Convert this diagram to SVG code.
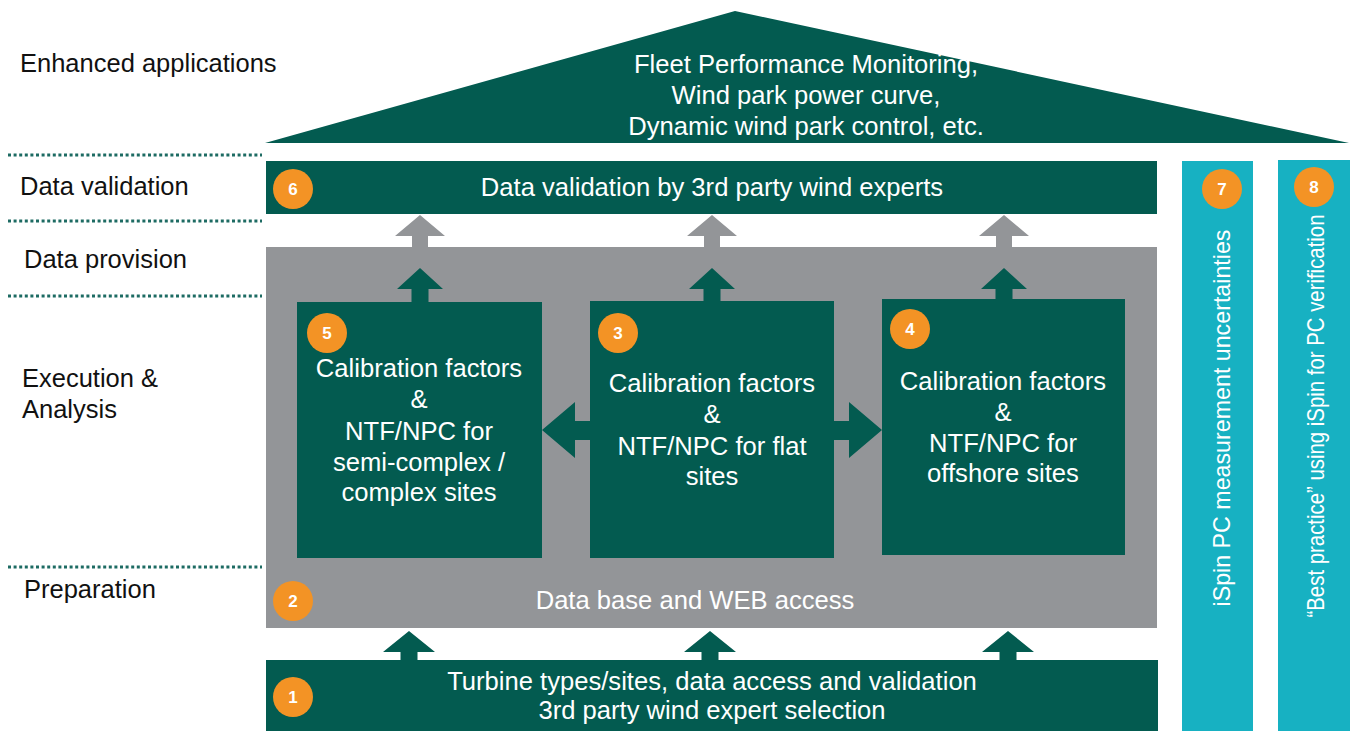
<svg xmlns="http://www.w3.org/2000/svg" width="1354" height="731" viewBox="0 0 1354 731">
<style>
.dk{fill:#035b50}
.gr{fill:#939598}
.cy{fill:#17b1c2}
.bd{fill:#f39325}
.bn{fill:#fff;font-family:"Liberation Sans",Arial,sans-serif;font-size:17px;font-weight:bold;text-anchor:middle}
.wt{fill:#fff;font-family:"Liberation Sans",Arial,sans-serif;font-size:25.6px;text-anchor:middle}
.lb{fill:#111;font-family:"Liberation Sans",Arial,sans-serif;font-size:25.5px}
.dot{stroke:#1d6b63;stroke-width:3;stroke-dasharray:3 2.6;fill:none}
</style>
<rect width="1354" height="731" fill="#fff"/>
<g id="levels">
<line class="dot" x1="8" y1="155" x2="262" y2="155"/>
<line class="dot" x1="8" y1="221" x2="262" y2="221"/>
<line class="dot" x1="8" y1="296" x2="262" y2="296"/>
<line class="dot" x1="8" y1="567" x2="262" y2="567"/>
<text class="lb" x="20" y="72">Enhanced applications</text>
<text class="lb" x="20" y="195">Data validation</text>
<text class="lb" x="24" y="268">Data provision</text>
<text class="lb" x="22" y="387">Execution &amp;</text>
<text class="lb" x="22" y="418">Analysis</text>
<text class="lb" x="24" y="598">Preparation</text>
</g>
<g id="roof">
<polygon class="dk" points="265,143 735,11 1349,143"/>
<text class="wt" x="806" y="73">Fleet Performance Monitoring,</text>
<text class="wt" x="806" y="104">Wind park power curve,</text>
<text class="wt" x="806" y="135">Dynamic wind park control, etc.</text>
</g>
<g id="n2">
<rect class="gr" x="266" y="247" width="891" height="381"/>
<circle class="bd" cx="293" cy="601" r="20"/>
<text class="bn" x="293" y="607">2</text>
<text class="wt" x="695" y="609">Data base and WEB access</text>
</g>
<g id="n6">
<rect class="dk" x="266" y="161" width="891" height="53"/>
<circle class="bd" cx="293" cy="189" r="20"/>
<text class="bn" x="293" y="195">6</text>
<text class="wt" x="712" y="196">Data validation by 3rd party wind experts</text>
</g>
<g id="n1">
<rect class="dk" x="266" y="660" width="892" height="71"/>
<circle class="bd" cx="293" cy="697" r="20"/>
<text class="bn" x="293" y="703">1</text>
<text class="wt" x="712" y="690">Turbine types/sites, data access and validation</text>
<text class="wt" x="712" y="719">3rd party wind expert selection</text>
</g>
<g id="connectors">
<polygon class="gr" points="420,215 445,236 428,236 428,248 412,248 412,236 395,236"/>
<polygon class="gr" points="712,215 737,236 720,236 720,248 704,248 704,236 687,236"/>
<polygon class="gr" points="1004,215 1029,236 1012,236 1012,248 996,248 996,236 979,236"/>
<polygon class="dk" points="420,268 443,289 428.5,289 428.5,303 411.5,303 411.5,289 397,289"/>
<polygon class="dk" points="712,268 735,289 720.5,289 720.5,303 703.5,303 703.5,289 689,289"/>
<polygon class="dk" points="1004,268 1027,289 1012.5,289 1012.5,300 995.5,300 995.5,289 981,289"/>
<polygon class="dk" points="409,631 435,652 417.5,652 417.5,661 400.5,661 400.5,652 383,652"/>
<polygon class="dk" points="710,631 736,652 718.5,652 718.5,661 701.5,661 701.5,652 684,652"/>
<polygon class="dk" points="1008,631 1034,652 1016.5,652 1016.5,661 999.5,661 999.5,652 982,652"/>
<polygon class="dk" points="542,430 575,402 575,421 591,421 591,440 575,440 575,458"/>
<polygon class="dk" points="882,430 849,402 849,421 833,421 833,440 849,440 849,458"/>
</g>
<g id="n5">
<rect class="dk" x="297" y="302" width="245" height="256"/>
<circle class="bd" cx="327" cy="333" r="20"/>
<text class="bn" x="327" y="339">5</text>
<text class="wt" x="419" y="377">Calibration factors</text>
<text class="wt" x="419" y="408">&amp;</text>
<text class="wt" x="419" y="440">NTF/NPC for</text>
<text class="wt" x="419" y="471">semi-complex /</text>
<text class="wt" x="419" y="501">complex sites</text>
</g>
<g id="n3">
<rect class="dk" x="590" y="301" width="244" height="257"/>
<circle class="bd" cx="618" cy="333" r="20"/>
<text class="bn" x="618" y="339">3</text>
<text class="wt" x="712" y="392">Calibration factors</text>
<text class="wt" x="712" y="423">&amp;</text>
<text class="wt" x="712" y="455">NTF/NPC for flat</text>
<text class="wt" x="712" y="485">sites</text>
</g>
<g id="n4">
<rect class="dk" x="882" y="299" width="243" height="256"/>
<circle class="bd" cx="910" cy="329" r="20"/>
<text class="bn" x="910" y="335">4</text>
<text class="wt" x="1003" y="390">Calibration factors</text>
<text class="wt" x="1003" y="421">&amp;</text>
<text class="wt" x="1003" y="452">NTF/NPC for</text>
<text class="wt" x="1003" y="482">offshore sites</text>
</g>
<g id="n7">
<rect class="cy" x="1182" y="161" width="71" height="570"/>
<circle class="bd" cx="1222" cy="189" r="20"/>
<text class="bn" x="1222" y="195">7</text>
<text class="wt" transform="translate(1222,418) rotate(-90)" x="0" y="8" textLength="377" lengthAdjust="spacingAndGlyphs" style="font-size:24px">iSpin PC measurement uncertainties</text>
</g>
<g id="n8">
<rect class="cy" x="1278" y="160" width="72" height="571"/>
<circle class="bd" cx="1314" cy="187" r="20"/>
<text class="bn" x="1314" y="193">8</text>
<text class="wt" transform="translate(1316,416) rotate(-90)" x="0" y="8" textLength="403" lengthAdjust="spacingAndGlyphs" style="font-size:24px">“Best practice” using iSpin for PC verification</text>
</g>
</svg>
